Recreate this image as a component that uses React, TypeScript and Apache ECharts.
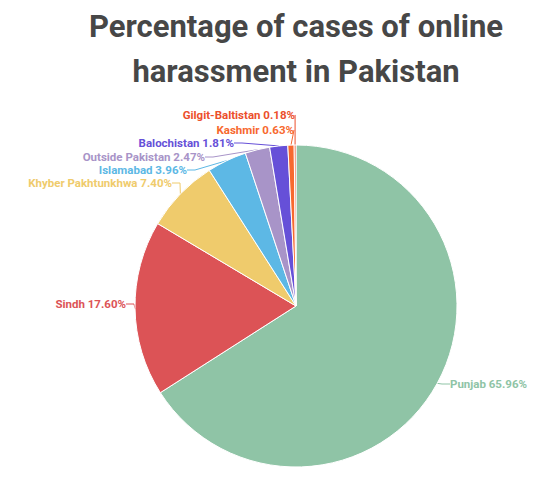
import { useEffect, useRef } from "react";
import * as echarts from "echarts";

const regions = [
  "Punjab",
  "Sindh",
  "Khyber Pakhtunkhwa",
  "Islamabad",
  "Outside Pakistan",
  "Balochistan",
  "Kashmir",
  "Gilgit-Baltistan",
];
const shares = [65.96, 17.6, 7.4, 3.96, 2.47, 1.81, 0.63, 0.18];
const sliceColors = [
  "#8fc4a6",
  "#dc5356",
  "#efcb6c",
  "#5db8e5",
  "#a894c8",
  "#6650d8",
  "#f7692f",
  "#ec4f2c",
];

const TITLE = "Percentage of cases of online\nharassment in Pakistan";

// label anchor spots (chart coords): [x, y, align]
const labelSpots: [number, number, "left" | "right"][] = [
  [442, 376, "left"],
  [118, 296, "right"],
  [164, 175, "right"],
  [179, 162, "right"],
  [197, 149, "right"],
  [226, 135, "right"],
  [286, 122, "right"],
  [287, 107, "right"],
];

export default function App() {
  const ref = useRef<HTMLDivElement>(null);

  useEffect(() => {
    if (!ref.current) return;
    const chart = echarts.init(ref.current, undefined, { renderer: "svg" });

    chart.setOption({
      animation: false,
      title: {
        text: TITLE,
        left: 288,
        top: -4,
        padding: 0,
        textAlign: "center",
        textStyle: {
          fontFamily: "Roboto",
          fontSize: 31,
          fontWeight: "bold",
          color: "#474747",
          lineHeight: 45,
        },
      },
      series: [
        {
          type: "pie",
          center: [288, 298],
          radius: 161,
          startAngle: 90,
          clockwise: true,
          itemStyle: { borderColor: "#ffffff", borderWidth: 1 },
          label: {
            show: true,
            fontFamily: "Roboto",
            fontSize: 11.5,
            fontWeight: "bold",
            overflow: "none",
            formatter: (p: { name: string; value: number }) =>
              `${p.name} ${p.value.toFixed(2)}%`,
          },
          labelLine: { show: true, length: 8, length2: 8, lineStyle: { width: 1 } },
          labelLayout: (p: { dataIndex: number }) => {
            const s = labelSpots[p.dataIndex];
            return { x: s[0], y: s[1], align: s[2], verticalAlign: "middle" };
          },
          data: regions.map((name, i) => ({
            name,
            value: shares[i],
            itemStyle: { color: sliceColors[i] },
            label: { color: sliceColors[i] },
          })),
        },
      ],
    });

    return () => chart.dispose();
  }, []);

  return <div ref={ref} style={{ width: 535, height: 464 }} />;
}
